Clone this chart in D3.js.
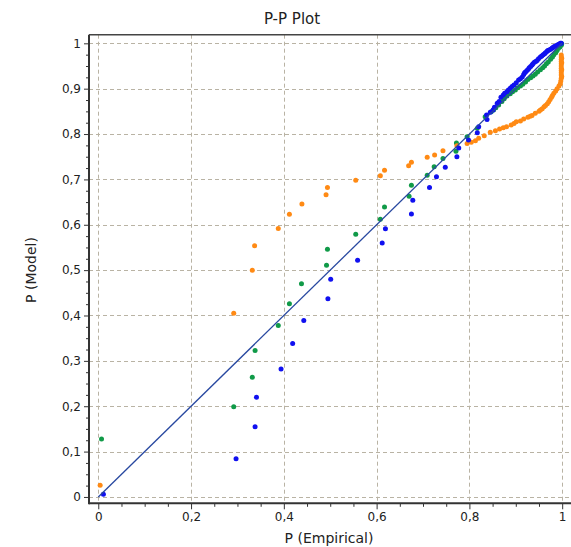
<!DOCTYPE html>
<html>
<head>
<meta charset="utf-8">
<script src="https://cdn.jsdelivr.net/npm/d3@7"></script>
<style>
  html, body { margin: 0; padding: 0; background: #fff; }
  svg { display: block; font-family: "DejaVu Sans", sans-serif; }
</style>
</head>
<body>
<svg id="chart" width="571" height="547"></svg>
<script>
// P-P plot: empirical vs. model cumulative probabilities for three fitted distributions.
const xTicks = [0, 0.2, 0.4, 0.6, 0.8, 1];
const yTicks = [0, 0.1, 0.2, 0.3, 0.4, 0.5, 0.6, 0.7, 0.8, 0.9, 1];

// Blue series [P(Empirical), P(Model)]
const blueSeries = [
  [0.011, 0.006], [0.297, 0.084], [0.338, 0.155], [0.341, 0.220], [0.394, 0.282],
  [0.419, 0.338], [0.443, 0.389], [0.495, 0.437], [0.501, 0.480], [0.559, 0.522],
  [0.612, 0.560], [0.619, 0.591], [0.675, 0.624], [0.678, 0.654], [0.714, 0.682],
  [0.729, 0.706], [0.748, 0.727], [0.773, 0.750], [0.777, 0.769], [0.798, 0.787],
  [0.817, 0.803], [0.820, 0.816], [0.838, 0.832], [0.837, 0.842], [0.845, 0.848],
  [0.851, 0.853], [0.854, 0.859], [0.860, 0.868], [0.864, 0.872], [0.868, 0.881],
  [0.873, 0.886], [0.876, 0.890], [0.881, 0.893], [0.884, 0.897], [0.888, 0.901],
  [0.892, 0.905], [0.896, 0.908], [0.901, 0.913], [0.906, 0.919], [0.910, 0.922],
  [0.914, 0.926], [0.917, 0.931], [0.919, 0.935], [0.921, 0.937], [0.924, 0.940],
  [0.927, 0.943], [0.929, 0.946], [0.932, 0.949], [0.935, 0.952], [0.937, 0.955],
  [0.940, 0.958], [0.943, 0.960], [0.946, 0.962], [0.949, 0.966], [0.953, 0.970],
  [0.956, 0.972], [0.959, 0.975], [0.962, 0.977], [0.964, 0.979], [0.967, 0.982],
  [0.969, 0.984], [0.972, 0.985], [0.975, 0.987], [0.978, 0.989], [0.980, 0.991],
  [0.983, 0.993], [0.986, 0.994], [0.989, 0.996], [0.991, 0.997], [0.993, 0.998],
  [0.996, 1.000], [0.998, 1.000]
];

// Green series
const greenSeries = [
  [0.007, 0.128], [0.292, 0.199], [0.332, 0.264], [0.338, 0.323], [0.388, 0.378],
  [0.412, 0.426], [0.438, 0.470], [0.492, 0.511], [0.494, 0.546], [0.555, 0.579],
  [0.608, 0.612], [0.617, 0.639], [0.670, 0.663], [0.675, 0.687], [0.709, 0.709],
  [0.724, 0.728], [0.743, 0.746], [0.771, 0.762], [0.772, 0.780], [0.795, 0.794],
  [0.817, 0.813], [0.834, 0.838], [0.847, 0.849], [0.852, 0.853], [0.857, 0.858],
  [0.863, 0.864], [0.870, 0.872], [0.875, 0.878], [0.881, 0.884], [0.888, 0.889],
  [0.893, 0.893], [0.899, 0.897], [0.904, 0.902], [0.910, 0.906], [0.915, 0.910],
  [0.921, 0.915], [0.926, 0.920], [0.932, 0.924], [0.937, 0.928], [0.942, 0.932],
  [0.947, 0.937], [0.953, 0.942], [0.958, 0.946], [0.962, 0.950], [0.966, 0.955],
  [0.970, 0.959], [0.975, 0.965], [0.979, 0.970], [0.982, 0.975], [0.986, 0.979],
  [0.989, 0.984], [0.992, 0.989], [0.995, 0.992], [0.998, 0.996], [0.999, 0.999]
];

// Orange series
const orangeSeries = [
  [0.004, 0.026], [0.292, 0.405], [0.332, 0.500], [0.337, 0.554], [0.388, 0.592],
  [0.412, 0.623], [0.439, 0.646], [0.491, 0.666], [0.494, 0.682], [0.555, 0.698],
  [0.608, 0.708], [0.617, 0.720], [0.669, 0.730], [0.675, 0.738], [0.709, 0.749],
  [0.725, 0.754], [0.743, 0.763], [0.773, 0.774], [0.795, 0.779], [0.804, 0.782],
  [0.813, 0.785], [0.820, 0.791], [0.832, 0.796], [0.845, 0.804], [0.856, 0.807],
  [0.865, 0.811], [0.873, 0.814], [0.880, 0.816], [0.890, 0.820], [0.896, 0.823],
  [0.901, 0.827], [0.910, 0.829], [0.917, 0.833], [0.926, 0.837], [0.931, 0.839],
  [0.935, 0.841], [0.942, 0.846], [0.950, 0.850], [0.953, 0.853], [0.957, 0.856],
  [0.961, 0.860], [0.964, 0.863], [0.968, 0.867], [0.971, 0.871], [0.974, 0.876],
  [0.977, 0.881], [0.979, 0.885], [0.982, 0.890], [0.986, 0.895], [0.989, 0.900],
  [0.993, 0.906], [0.996, 0.911], [0.997, 0.917], [0.998, 0.923], [0.999, 0.927],
  [0.998, 0.930], [0.998, 0.935], [0.998, 0.940], [0.999, 0.942], [0.998, 0.945],
  [0.998, 0.950], [0.998, 0.955], [0.999, 0.957], [0.998, 0.960], [0.998, 0.965],
  [0.999, 0.967], [0.998, 0.970], [0.998, 0.974]
];

// Reference diagonal
const diagonal = [[0, 0], [1, 1]];

const fmt = v => (v === 0 || v === 1) ? String(v) : String(v).replace(".", ",");

const svg = d3.select("#chart");
const plot = { left: 89, right: 571, top: 34.7, bottom: 503.3 };

const x = d3.scaleLinear().domain([-0.02, 1.019]).range([plot.left, plot.right]);
const y = d3.scaleLinear().domain([-0.014, 1.019]).range([plot.bottom, plot.top]);

// Dashed grid
const grid = svg.append("g").attr("stroke", "#b9b3a4").attr("stroke-width", 1)
  .attr("stroke-dasharray", "4,3").attr("fill", "none");
grid.selectAll("line.v").data(xTicks).join("line").attr("class", "v")
  .attr("x1", d => Math.round(x(d)) + 0.5).attr("x2", d => Math.round(x(d)) + 0.5)
  .attr("y1", plot.top).attr("y2", plot.bottom);
grid.selectAll("line.h").data(yTicks).join("line").attr("class", "h")
  .attr("y1", d => Math.round(y(d)) + 0.5).attr("y2", d => Math.round(y(d)) + 0.5)
  .attr("x1", plot.left).attr("x2", plot.right);

// Points
const series = [
  { data: greenSeries, color: "#109a48" },
  { data: orangeSeries, color: "#ff8a14" },
  { data: blueSeries, color: "#1010f0" }
];
series.forEach(s => {
  svg.append("g").selectAll("circle").data(s.data).join("circle")
    .attr("cx", d => x(d[0])).attr("cy", d => y(d[1])).attr("r", 2.5)
    .attr("fill", s.color);
});

// Diagonal reference line
svg.append("path").datum(diagonal)
  .attr("d", d3.line().x(d => x(d[0])).y(d => y(d[1])))
  .attr("stroke", "#2848a0").attr("stroke-width", 1.3).attr("fill", "none");

// Minor ticks
const xMinor = d3.range(0, 1.0001, 0.05).filter(v => !xTicks.some(t => Math.abs(t - v) < 1e-6));
const yMinor = d3.range(0, 1.0001, 0.025).filter(v => !yTicks.some(t => Math.abs(t - v) < 1e-6));

const xAxis = svg.append("g").attr("transform", `translate(0,${plot.bottom})`)
  .call(d3.axisBottom(x).tickValues(xTicks).tickFormat(fmt).tickSize(6).tickPadding(3));
svg.append("g").attr("transform", `translate(0,${plot.bottom})`)
  .call(d3.axisBottom(x).tickValues(xMinor).tickFormat("").tickSize(3.5))
  .call(g => g.select(".domain").remove());

const yAxis = svg.append("g").attr("transform", `translate(${plot.left},0)`)
  .call(d3.axisLeft(y).tickValues(yTicks).tickFormat(fmt).tickSize(5).tickPadding(3));
svg.append("g").attr("transform", `translate(${plot.left},0)`)
  .call(d3.axisLeft(y).tickValues(yMinor).tickFormat("").tickSize(3))
  .call(g => g.select(".domain").remove());

svg.selectAll(".tick line").attr("stroke", "#333");
svg.selectAll(".tick text").attr("fill", "#222").attr("font-size", 12)
  .attr("font-family", "DejaVu Sans, sans-serif");
xAxis.select(".domain").remove();
yAxis.select(".domain").remove();

// Frame lines: left, bottom, top
svg.append("line").attr("x1", plot.left).attr("x2", plot.left)
  .attr("y1", plot.top).attr("y2", plot.bottom + 1).attr("stroke", "#333").attr("stroke-width", 2);
svg.append("line").attr("x1", plot.left).attr("x2", plot.right)
  .attr("y1", plot.bottom).attr("y2", plot.bottom).attr("stroke", "#333").attr("stroke-width", 2);
svg.append("line").attr("x1", plot.left).attr("x2", plot.right)
  .attr("y1", plot.top).attr("y2", plot.top).attr("stroke", "#444").attr("stroke-width", 1.5);

// Titles
svg.append("text").attr("x", 292).attr("y", 24).attr("text-anchor", "middle")
  .attr("font-size", 15).attr("fill", "#222").text("P-P Plot");
svg.append("text").attr("x", 329).attr("y", 543).attr("text-anchor", "middle")
  .attr("font-size", 14).attr("fill", "#222").text("P (Empirical)");
svg.append("text").attr("transform", "translate(36,270) rotate(-90)").attr("text-anchor", "middle")
  .attr("font-size", 14).attr("fill", "#222").text("P (Model)");
</script>
</body>
</html>
